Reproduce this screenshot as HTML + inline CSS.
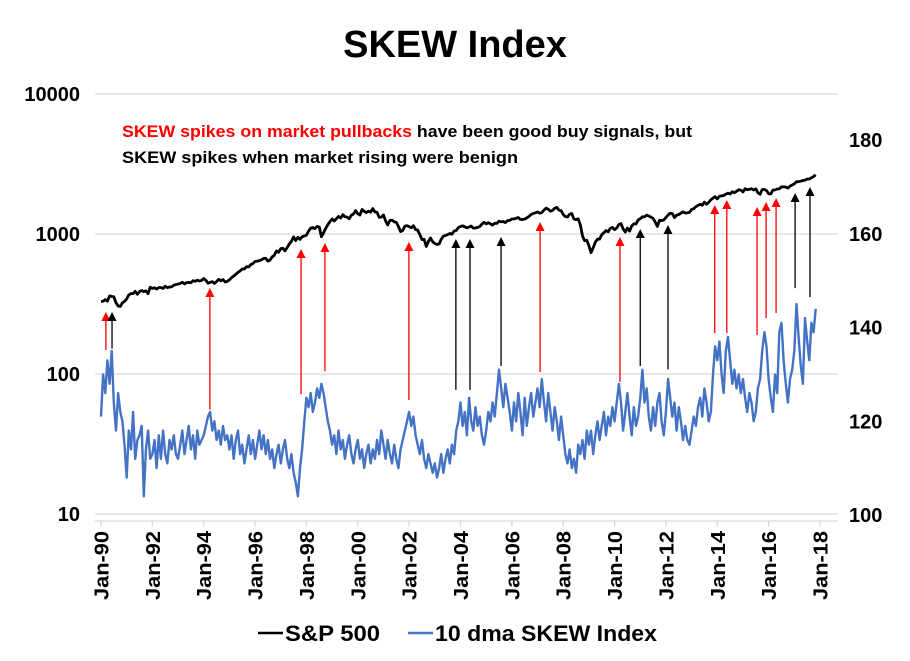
<!DOCTYPE html>
<html><head><meta charset="utf-8">
<style>
html,body{margin:0;padding:0;background:#fff;}
svg{display:block;font-family:"Liberation Sans",Arial,sans-serif;}
</style></head>
<body>
<svg id="chart" width="910" height="661" viewBox="0 0 910 661">
  <text x="455" y="57" text-anchor="middle" font-size="38" font-weight="bold">SKEW Index</text>
  <g id="grid"></g>
  <g id="yleft"></g>
  <g id="yright"></g>
  <g id="xaxis"></g>
  <g id="series"></g>
  <g id="arrows"></g>
  <text x="122" y="137" font-size="17" font-weight="bold" textLength="570" lengthAdjust="spacingAndGlyphs"><tspan fill="#ff0000">SKEW spikes on market pullbacks</tspan><tspan fill="#000"> have been good buy signals, but</tspan></text>
  <text x="122" y="163" font-size="17" font-weight="bold" textLength="396" lengthAdjust="spacingAndGlyphs">SKEW spikes when market rising were benign</text>
  <g>
    <line x1="258" y1="633" x2="283" y2="633" stroke="#000" stroke-width="2.5"/>
    <text x="285" y="641" font-size="22" font-weight="bold" textLength="95" lengthAdjust="spacingAndGlyphs">S&amp;P 500</text>
    <line x1="408" y1="633" x2="433" y2="633" stroke="#4472c4" stroke-width="2.5"/>
    <text x="435" y="641" font-size="22" font-weight="bold" textLength="222" lengthAdjust="spacingAndGlyphs">10 dma SKEW Index</text>
  </g>
</svg>
<script>
const startYear = 1990;
const spValues = [
329,331,340,331,361,358,356,323,306,304,322,330,
344,367,375,375,390,371,388,395,388,392,375,417,
409,413,404,415,415,408,424,414,418,419,431,436,
439,443,452,440,450,451,448,464,459,468,462,466,
481,467,445,451,457,444,458,475,463,472,454,459,
470,487,501,515,533,545,562,562,584,582,605,616,
636,640,646,654,669,671,640,652,687,705,757,740,
786,791,757,801,848,885,954,899,947,915,955,970,
980,1049,1101,1112,1091,1134,1121,957,1017,1099,1164,1229,
1280,1238,1286,1335,1302,1373,1329,1320,1283,1362,1389,1469,
1394,1366,1499,1452,1421,1455,1431,1518,1437,1429,1315,1320,
1366,1240,1160,1249,1256,1224,1211,1134,1041,1060,1139,1148,
1130,1107,1147,1077,1067,990,912,916,815,886,936,880,
856,841,848,917,964,975,990,1008,996,1051,1058,1112,
1131,1145,1126,1107,1121,1141,1102,1104,1115,1130,1174,1212,
1181,1204,1181,1157,1192,1191,1234,1220,1229,1207,1249,1248,
1280,1281,1295,1311,1270,1270,1277,1304,1336,1378,1401,1418,
1438,1407,1421,1482,1531,1503,1455,1474,1527,1549,1481,1468,
1379,1331,1323,1386,1400,1280,1267,1283,1166,969,896,903,
826,735,798,873,919,919,987,1021,1057,1036,1096,1115,
1074,1104,1169,1187,1089,1031,1102,1049,1141,1183,1181,1258,
1286,1327,1326,1364,1345,1321,1292,1219,1131,1253,1247,1258,
1312,1366,1408,1398,1310,1362,1379,1407,1441,1412,1416,1426,
1498,1515,1569,1598,1631,1606,1686,1633,1682,1757,1806,1848,
1783,1859,1872,1884,1924,1960,1931,2003,1972,2018,2068,2059,
1995,2105,2068,2086,2107,2063,2104,1972,1920,2079,2080,2044,
1940,1932,2060,2065,2097,2099,2174,2171,2168,2126,2199,2239,
2279,2364,2363,2384,2412,2423,2470,2472,2519,2575,2648];
const skewValues = [
121,130,126,133,128,135,124,118,126,122,120,115,
108,118,114,122,112,116,117,119,104,114,118,112,
113,116,110,117,112,118,113,111,116,114,117,113,
112,115,118,113,116,119,114,117,112,118,115,116,
117,119,121,122,118,120,116,118,115,119,116,117,
114,117,112,116,118,113,115,111,114,117,113,116,
112,115,118,114,117,113,116,112,114,110,113,115,
111,114,116,112,110,113,109,107,104,110,114,120,
125,123,126,122,124,127,125,128,126,123,120,118,
115,117,113,118,114,116,112,115,117,113,111,114,
116,112,114,110,113,115,111,114,112,116,113,118,
115,112,116,113,111,115,112,110,114,116,118,120,
122,119,121,117,115,113,116,112,110,113,111,109,
111,108,110,113,109,112,114,111,115,113,118,120,
124,119,122,117,125,120,118,123,119,121,117,115,
118,122,120,124,121,126,131,127,123,128,125,122,
118,124,120,126,122,117,125,119,123,126,121,124,
127,123,129,124,120,126,122,118,123,120,116,121,
117,113,111,114,110,112,109,115,113,116,112,118,
115,118,113,117,120,116,119,122,117,121,119,123,
120,124,128,124,118,122,126,121,117,123,119,121,
125,131,124,127,121,118,123,119,124,126,120,117,
122,129,125,121,124,118,123,120,116,119,116,115,
118,121,119,123,125,121,127,124,120,122,130,136,
133,137,130,126,135,138,133,128,131,127,130,126,
129,125,122,126,124,120,122,127,129,135,139,136,
129,125,122,130,126,139,141,133,128,124,129,131,
135,145,138,132,128,142,137,133,141,139,144];
const leftTicks = [10, 100, 1000, 10000];
const leftTickLabels = ["10","100","1000","10000"];
const rightTicks = [100, 120, 140, 160, 180];
const xTickYears = [1990,1992,1994,1996,1998,2000,2002,2004,2006,2008,2010,2012,2014,2016,2018];
const xTickLabels = ["Jan-90","Jan-92","Jan-94","Jan-96","Jan-98","Jan-00","Jan-02","Jan-04","Jan-06","Jan-08","Jan-10","Jan-12","Jan-14","Jan-16","Jan-18"];
const arrowYears = [1990.19,1990.43,1994.24,1997.79,1998.72,2001.99,2003.82,2004.37,2005.58,2007.1,2010.21,2011.0,2012.08,2013.9,2014.37,2015.55,2015.9,2016.29,2017.03,2017.61];
const arrowSkewStart = [135.2,135.5,122.5,125.8,130.7,124.5,126.7,126.7,131.8,130.5,128.4,131.8,131.1,138.8,138.8,138.4,142,143.1,148.4,146.5];
const arrowSpEnd = [277,277,411,781,862,877,921,921,952,1218,952,1086,1160,1611,1749,1559,1693,1808,1963,2167];
const arrowKinds = ["pullback","rising","pullback","pullback","pullback","pullback","rising","rising","rising","pullback","pullback","rising","rising","pullback","pullback","pullback","pullback","pullback","rising","rising"];

const NS = "http://www.w3.org/2000/svg";
const X0 = 101, X1 = 820;
function xScale(year){ return X0 + (year - 1990) / 28 * (X1 - X0); }
function yLeft(v){ return 234 - (Math.log10(v) - 3) * 140; }
function yRight(v){ return 515 - (v - 100) * 375 / 80; }
function mk(tag, attrs, parent){ const e = document.createElementNS(NS, tag); for (const k in attrs) e.setAttribute(k, attrs[k]); parent.appendChild(e); return e; }

const grid = document.getElementById('grid');
leftTicks.forEach((t,i) => {
  const g = mk('line', {x1:95, x2:838, y1:yLeft(t), y2:yLeft(t), stroke:'#d9d9d9', 'stroke-width':1.3}, grid);
  
  
  const lbl = mk('text', {x:80, y:yLeft(t)+7, 'text-anchor':'end', 'font-size':20, 'font-weight':'bold'}, document.getElementById('yleft'));
  lbl.textContent = leftTickLabels[i];
  
  
});
rightTicks.forEach(t => {
  const lbl = mk('text', {x:849, y:yRight(t)+7, 'font-size':20, 'font-weight':'bold'}, document.getElementById('yright'));
  lbl.textContent = String(t);
  
  
});
const xg = document.getElementById('xaxis');
const axisLine = mk('line', {x1:95, x2:838, y1:521, y2:521, stroke:'#d9d9d9', 'stroke-width':1.3}, xg);


xTickYears.forEach((yr,i) => {
  const x = xScale(yr);
  const tk = mk('line', {x1:x, x2:x, y1:521, y2:527, stroke:'#d9d9d9', 'stroke-width':1.3}, xg);
  
  
  const lbl = mk('text', {x:0, y:0, 'text-anchor':'end', 'font-size':20, 'font-weight':'bold', textLength:69, lengthAdjust:'spacingAndGlyphs', transform:'translate(' + (x+7.5) + ',531) rotate(-90)'}, xg);
  lbl.textContent = xTickLabels[i];
  
  
});

const sg = document.getElementById('series');
function buildPath(vals, yf){
  return vals.map((v,i) => (i ? 'L' : 'M') + xScale(startYear + i/12).toFixed(1) + ',' + yf(v).toFixed(1)).join(' ');
}
const skewPath = mk('path', {d:buildPath(skewValues, yRight), fill:'none', stroke:'#4472c4', 'stroke-width':2.4, 'stroke-linejoin':'round'}, sg);


const spPath = mk('path', {d:buildPath(spValues, yLeft), fill:'none', stroke:'#000', 'stroke-width':2.8, 'stroke-linejoin':'round'}, sg);



const ag = document.getElementById('arrows');
arrowYears.forEach((yr,i) => {
  const x = xScale(yr);
  const yb = yRight(arrowSkewStart[i]);
  const yt = yLeft(arrowSpEnd[i]);
  const col = arrowKinds[i] === 'pullback' ? '#ff0000' : '#000000';
  const g = mk('g', {}, ag);
  
  
  mk('line', {x1:x, x2:x, y1:yb, y2:yt+8, stroke:col, 'stroke-width':1.3}, g);
  mk('polygon', {points:(x-4.5)+','+(yt+9)+' '+(x+4.5)+','+(yt+9)+' '+x+','+yt, fill:col}, g);
});
</script>
</body></html>
